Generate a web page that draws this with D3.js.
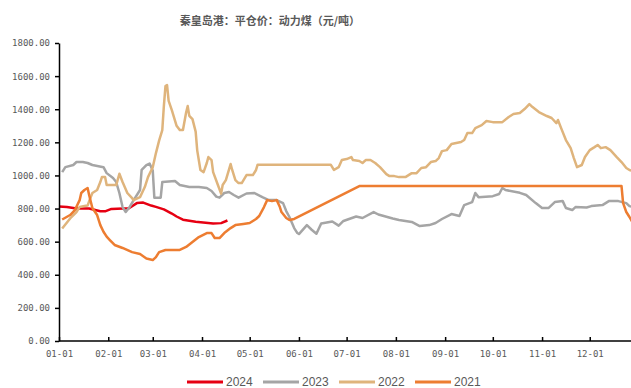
<!DOCTYPE html>
<html lang="zh">
<head>
  <meta charset="utf-8" />
  <title>秦皇岛港：平仓价：动力煤</title>
  <script src="https://d3js.org/d3.v7.min.js"></script>
  <style>
    html, body {
      margin: 0;
      padding: 0;
      background: #ffffff;
    }
    svg {
      display: block;
    }
    .title {
      font-family: "Noto Sans CJK SC", sans-serif;
      font-weight: bold;
      font-size: 11px;
      fill: #595959;
    }
    .axis text {
      font-family: "DejaVu Sans Mono", monospace;
      font-size: 9px;
      fill: #595959;
    }
    .axis path, .axis line {
      stroke: #000;
      stroke-width: 1.5px;
    }
    .legend text {
      font-family: "Liberation Sans", Arial, sans-serif;
      font-size: 12px;
      fill: #595959;
    }
  </style>
</head>
<body>
  <svg id="chart" width="631" height="388"></svg>

  <script>
    // values, [month-day, 元/吨]
    const series2024 = [
      ["01-01", 813], ["01-06", 810], ["01-12", 800], ["01-20", 800], ["01-27", 784],
      ["01-30", 783], ["02-03", 798], ["02-14", 802], ["02-19", 833], ["02-23", 836],
      ["02-28", 818], ["03-03", 810], ["03-08", 795], ["03-13", 770], ["03-16", 752],
      ["03-20", 733], ["03-28", 720], ["04-08", 710], ["04-13", 712], ["04-17", 728]
    ];

    const series2023 = [
      ["01-03", 1020], ["01-05", 1050], ["01-10", 1063], ["01-12", 1081], ["01-16", 1081],
      ["01-19", 1075], ["01-22", 1063], ["01-29", 1050], ["01-31", 1014], ["02-04", 984],
      ["02-06", 960], ["02-08", 894], ["02-10", 809], ["02-12", 779], ["02-14", 803],
      ["02-17", 851], ["02-21", 912], ["02-22", 1033], ["02-25", 1063], ["02-27", 1072],
      ["03-01", 1030], ["03-02", 866], ["03-06", 866], ["03-07", 960], ["03-15", 966],
      ["03-18", 942], ["03-24", 930], ["03-30", 930], ["04-04", 924], ["04-07", 906],
      ["04-10", 872], ["04-12", 866], ["04-15", 894], ["04-18", 900], ["04-21", 882],
      ["04-24", 866], ["04-29", 891], ["05-04", 894], ["05-09", 869], ["05-13", 851],
      ["05-18", 851], ["05-22", 833], ["05-24", 785], ["05-26", 749], ["05-29", 682],
      ["05-31", 652], ["06-01", 646], ["06-06", 700], ["06-09", 672], ["06-12", 648],
      ["06-15", 710], ["06-22", 722], ["06-26", 697], ["06-29", 725], ["07-07", 752],
      ["07-11", 743], ["07-18", 779], ["07-21", 764], ["07-30", 740], ["08-03", 731],
      ["08-11", 719], ["08-16", 694], ["08-22", 700], ["08-26", 713], ["08-30", 737],
      ["09-05", 767], ["09-10", 755], ["09-13", 821], ["09-18", 839], ["09-20", 894],
      ["09-22", 869], ["10-01", 875], ["10-05", 888], ["10-07", 924], ["10-09", 912],
      ["10-18", 895], ["10-22", 882], ["10-28", 833], ["11-01", 803], ["11-05", 803],
      ["11-09", 839], ["11-14", 845], ["11-16", 803], ["11-20", 791], ["11-22", 809],
      ["11-29", 806], ["12-02", 815], ["12-09", 821], ["12-13", 845], ["12-19", 845],
      ["12-24", 833], ["12-26", 815], ["12-31", 800]
    ];

    const series2022 = [
      ["01-03", 679], ["01-08", 740], ["01-12", 779], ["01-14", 810], ["01-17", 815],
      ["01-19", 818], ["01-20", 845], ["01-22", 894], ["01-25", 912], ["01-27", 960],
      ["01-28", 990], ["01-30", 990], ["01-31", 942], ["02-06", 942], ["02-08", 1010],
      ["02-10", 960], ["02-13", 894], ["02-16", 863], ["02-17", 851], ["02-21", 869],
      ["02-24", 930], ["02-26", 990], ["03-01", 1050], ["03-03", 1135], ["03-05", 1210],
      ["03-07", 1274], ["03-08", 1420], ["03-09", 1540], ["03-10", 1546], ["03-11", 1450],
      ["03-13", 1395], ["03-16", 1300], ["03-18", 1274], ["03-20", 1274], ["03-22", 1380],
      ["03-23", 1419], ["03-24", 1360], ["03-26", 1340], ["03-28", 1265], ["03-29", 1150],
      ["03-31", 1033], ["04-02", 1020], ["04-04", 1075], ["04-05", 1111], ["04-07", 1093],
      ["04-08", 1020], ["04-11", 942], ["04-13", 890], ["04-14", 942], ["04-16", 972],
      ["04-19", 1069], ["04-20", 1033], ["04-22", 972], ["04-24", 954], ["04-26", 954],
      ["04-29", 1002], ["05-03", 1002], ["05-05", 1033], ["05-06", 1065], ["06-21", 1065],
      ["06-23", 1033], ["06-26", 1050], ["06-28", 1093], ["07-01", 1099], ["07-04", 1111],
      ["07-05", 1093], ["07-09", 1087], ["07-11", 1075], ["07-13", 1093], ["07-16", 1093],
      ["07-19", 1075], ["07-22", 1050], ["07-26", 1008], ["07-28", 996], ["07-31", 996],
      ["08-03", 990], ["08-07", 990], ["08-11", 1014], ["08-14", 1014], ["08-17", 1045],
      ["08-20", 1050], ["08-23", 1081], ["08-26", 1087], ["08-28", 1105], ["08-30", 1147],
      ["09-02", 1153], ["09-05", 1190], ["09-11", 1202], ["09-13", 1214], ["09-15", 1256],
      ["09-18", 1256], ["09-20", 1286], ["09-24", 1304], ["09-27", 1329], ["10-01", 1322],
      ["10-07", 1322], ["10-11", 1353], ["10-14", 1371], ["10-18", 1377], ["10-21", 1401],
      ["10-24", 1431], ["10-26", 1413], ["10-30", 1383], ["11-04", 1359], ["11-07", 1347],
      ["11-10", 1316], ["11-11", 1335], ["11-13", 1286], ["11-16", 1214], ["11-19", 1165],
      ["11-21", 1105], ["11-23", 1050], ["11-26", 1063], ["11-28", 1111], ["12-01", 1153],
      ["12-04", 1171], ["12-06", 1184], ["12-08", 1165], ["12-11", 1171], ["12-14", 1153],
      ["12-18", 1111], ["12-21", 1081], ["12-24", 1045], ["12-26", 1033], ["12-30", 1020]
    ];

    const series2021 = [
      ["01-03", 734], ["01-08", 761], ["01-11", 791], ["01-14", 851], ["01-15", 894],
      ["01-17", 912], ["01-19", 924], ["01-20", 880], ["01-22", 803], ["01-25", 761],
      ["01-27", 700], ["01-29", 660], ["01-31", 630], ["02-02", 610], ["02-05", 580],
      ["02-10", 562], ["02-16", 537], ["02-21", 525], ["02-25", 498], ["03-01", 489],
      ["03-03", 507], ["03-05", 537], ["03-09", 550], ["03-18", 550], ["03-22", 568],
      ["03-26", 598], ["03-30", 628], ["04-04", 652], ["04-07", 652], ["04-09", 622],
      ["04-12", 622], ["04-15", 652], ["04-19", 682], ["04-22", 700], ["04-27", 707],
      ["05-01", 713], ["05-05", 737], ["05-07", 755], ["05-10", 809], ["05-12", 851],
      ["05-15", 845], ["05-18", 851], ["05-20", 809], ["05-21", 779], ["05-24", 743],
      ["05-26", 731], ["05-29", 737], ["07-09", 936], ["12-21", 936], ["12-22", 833],
      ["12-24", 779], ["12-26", 749], ["12-28", 715]
    ];

    const seriesNames = ["2024", "2023", "2022", "2021"];
    const seriesColors = ["#e60012", "#a5a5a5", "#dfb47c", "#ed7d31"];
    const monthTicks = ["01-01", "02-01", "03-01", "04-01", "05-01", "06-01",
                        "07-01", "08-01", "09-01", "10-01", "11-01", "12-01"];
    const yTicks = [0, 200, 400, 600, 800, 1000, 1200, 1400, 1600, 1800];
    const chartTitle = "秦皇岛港：平仓价：动力煤（元/吨）";

    const allSeries = [series2024, series2023, series2022, series2021];

    const svg = d3.select("#chart");
    const parse = d3.timeParse("%Y-%m-%d");
    const toDate = md => parse("2001-" + md);

    // plot runs past the right edge of the window, like the source image
    const x = d3.scaleTime()
      .domain([toDate("01-01"), parse("2002-01-01")])
      .range([59, 639]);

    const y = d3.scaleLinear()
      .domain([0, 1800])
      .range([341, 43]);

    svg.append("text")
      .attr("class", "title")
      .attr("x", 270)
      .attr("y", 25)
      .attr("text-anchor", "middle")
      .text(chartTitle);

    // lines, 2024 first so 2021 ends on top
    const line = d3.line()
      .x(d => x(toDate(d[0])))
      .y(d => y(d[1]));

    svg.append("g")
      .selectAll("path")
      .data(allSeries)
      .join("path")
      .attr("fill", "none")
      .attr("stroke", (d, i) => seriesColors[i])
      .attr("stroke-width", 2.5)
      .attr("stroke-linejoin", "round")
      .attr("d", line);

    // axes
    svg.append("g")
      .attr("class", "axis")
      .attr("transform", "translate(59,0)")
      .call(d3.axisLeft(y)
        .tickValues(yTicks)
        .tickFormat(d3.format(".2f"))
        .tickSize(4)
        .tickSizeOuter(0)
        .tickPadding(5));

    const xAxis = svg.append("g")
      .attr("class", "axis")
      .attr("transform", "translate(0,341)")
      .call(d3.axisBottom(x)
        .tickValues(monthTicks.map(toDate))
        .tickFormat(d3.timeFormat("%m-%d"))
        .tickSizeInner(-4)
        .tickSizeOuter(0)
        .tickPadding(10));
    xAxis.select(".domain").attr("d", "M59,0H631");

    // legend
    const legend = svg.append("g")
      .attr("class", "legend")
      .attr("transform", "translate(187,382)");

    const item = legend.selectAll("g")
      .data(seriesNames)
      .join("g")
      .attr("transform", (d, i) => `translate(${i * 76},0)`);

    item.append("line")
      .attr("x1", 0)
      .attr("x2", 36)
      .attr("stroke", (d, i) => seriesColors[i])
      .attr("stroke-width", 3);

    item.append("text")
      .attr("x", 39)
      .attr("dy", "0.35em")
      .text(d => d);
  </script>
</body>
</html>
